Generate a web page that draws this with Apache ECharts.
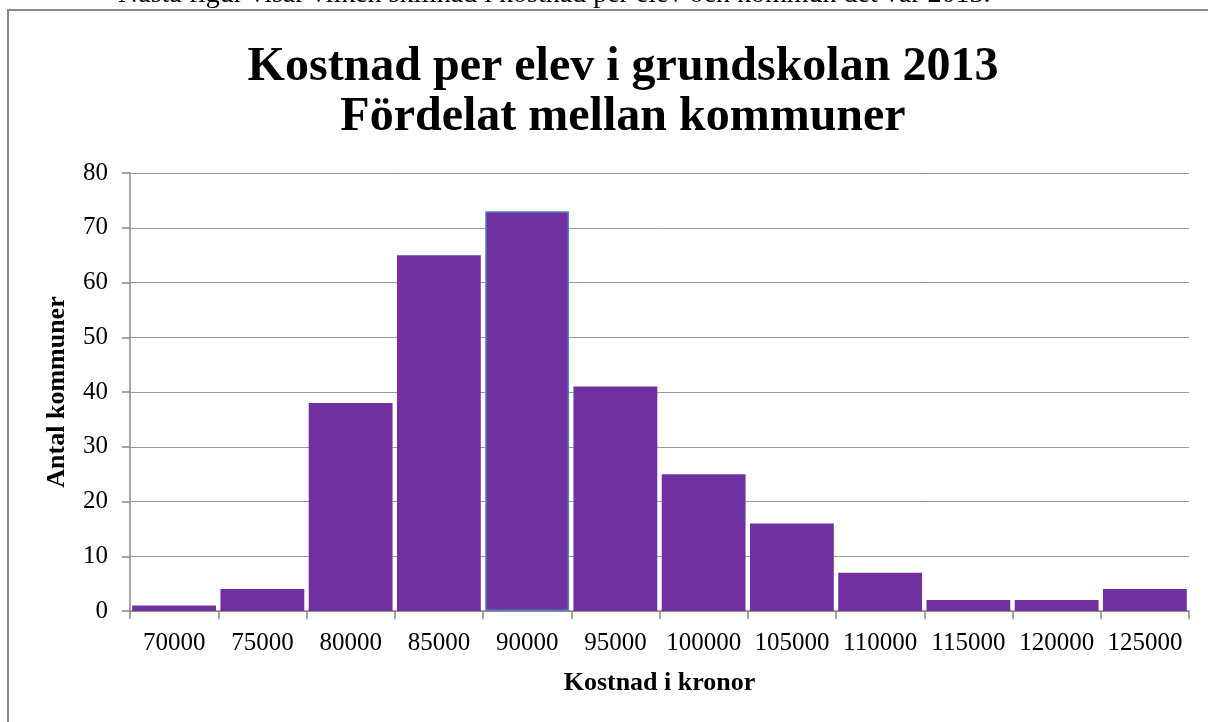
<!DOCTYPE html>
<html><head><meta charset="utf-8">
<script src="https://cdn.jsdelivr.net/npm/echarts@6/dist/echarts.min.js"></script>
<style>html,body{margin:0;padding:0;background:#fff}#c{width:1208px;height:722px}</style>
</head><body><div id="c"></div>
<script>
const categories = ['70000','75000','80000','85000','90000','95000','100000','105000','110000','115000','120000','125000'];
const counts = [1, 4, 38, 65, 73, 41, 25, 16, 7, 2, 2, 4];
const yTicks = {min: 0, max: 80, interval: 10};
const titleText = 'Kostnad per elev i grundskolan 2013\nFördelat mellan kommuner';
const introText = 'Nästa figur visar vilken skillnad i kostnad per elev och kommun det var 2013.';
const xName = 'Kostnad i kronor';
const yName = 'Antal kommuner';

const serif = '"Liberation Serif","DejaVu Serif",serif';
const chart = echarts.init(document.getElementById('c'), null, {renderer: 'canvas'});
chart.setOption({
  animation: false,
  backgroundColor: '#fff',
  graphic: [
    {type: 'text', x: 118, y: 9, style: {text: introText, font: '28px ' + serif, fill: '#000', textVerticalAlign: 'bottom', verticalAlign: 'bottom'}, z: 1},
    {type: 'rect', shape: {x: 8, y: 10, width: 1300, height: 800}, style: {fill: 'none', stroke: '#888', lineWidth: 2}, z: 2}
  ],
  title: {
    text: titleText, left: 618, textAlign: 'center', top: 38,
    textStyle: {fontFamily: serif, fontWeight: 'bold', fontSize: 48, lineHeight: 50, color: '#000'}
  },
  grid: {left: 130, right: 19, top: 173, bottom: 111, containLabel: false},
  xAxis: {
    type: 'category', data: categories, boundaryGap: true,
    name: xName, nameLocation: 'middle', nameGap: 59,
    nameTextStyle: {fontFamily: serif, fontWeight: 'bold', fontSize: 26, color: '#000'},
    axisLine: {lineStyle: {color: '#888', width: 1.5}},
    axisTick: {show: true, interval: 0, length: 8, lineStyle: {color: '#888', width: 1.5}},
    axisLabel: {interval: 0, fontFamily: serif, fontSize: 25, color: '#000', margin: 20}
  },
  yAxis: {
    type: 'value', min: yTicks.min, max: yTicks.max, interval: yTicks.interval,
    name: yName, nameLocation: 'middle', nameGap: 60, nameRotate: 90,
    nameTextStyle: {fontFamily: serif, fontWeight: 'bold', fontSize: 26, color: '#000'},
    axisLine: {show: true, lineStyle: {color: '#888', width: 1.5}},
    axisTick: {show: true, length: 8, lineStyle: {color: '#888', width: 1.5}},
    axisLabel: {fontFamily: serif, fontSize: 25, color: '#000', margin: 22},
    splitLine: {lineStyle: {color: '#999', width: 1}}
  },
  series: [{
    type: 'bar', barCategoryGap: '5%',
    data: counts.map((v, i) => i === 4 ? {value: v, itemStyle: {color: '#7030A0', borderColor: '#4F81BD', borderWidth: 1.5}} : v),
    itemStyle: {color: '#7030A0'}
  }]
});
</script></body></html>
